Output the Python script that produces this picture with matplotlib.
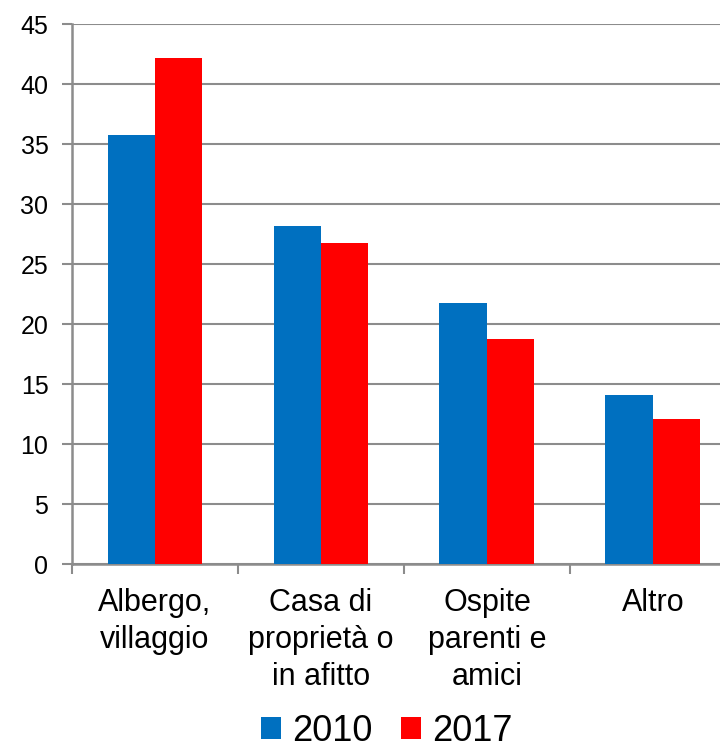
import matplotlib
matplotlib.use("Agg")
import matplotlib.pyplot as plt
import numpy as np

plt.rcParams["font.family"] = ["Liberation Sans", "DejaVu Sans"]

# dati
categorie = ["Albergo,\nvillaggio", "Casa di\nproprietà o\nin afitto", "Ospite\nparenti e\namici", "Altro"]
anni = ["2010", "2017"]
val_2010 = [35.8, 28.2, 21.8, 14.1]
val_2017 = [42.2, 26.8, 18.8, 12.1]
colori = ["#0070C0", "#FF0000"]
yticks = [0, 5, 10, 15, 20, 25, 30, 35, 40, 45]

grigio = "#8C8C8C"

fig = plt.figure(figsize=(7.2, 7.5), dpi=100)
ax = fig.add_axes([0.1, 0.248, 0.9, 0.7196])

x = np.arange(len(categorie))
w = 0.286
ax.bar(x - w / 2, val_2010, w, color=colori[0], label=anni[0], zorder=3)
ax.bar(x + w / 2, val_2017, w, color=colori[1], label=anni[1], zorder=3)

ax.set_ylim(0, 45)
ax.set_yticks(yticks)
ax.set_xlim(-0.5, 3.404)
ax.yaxis.grid(True, color=grigio, linewidth=1.5, zorder=0)
ax.set_axisbelow(True)

# tacche tra le categorie, etichette al centro
ax.set_xticks(x)
ax.set_xticklabels(categorie, fontsize=22, linespacing=1.32)
ax.set_xticks(np.arange(len(categorie)) - 0.5, minor=True)
ax.tick_params(axis="x", which="major", length=0, pad=17)
ax.tick_params(axis="x", which="minor", length=7, width=1.5, color=grigio)
ax.tick_params(axis="y", labelsize=18, length=7, width=1.5, color=grigio, pad=10)

for s in ["top", "right"]:
    ax.spines[s].set_visible(False)
for s in ["left", "bottom"]:
    ax.spines[s].set_color(grigio)
    ax.spines[s].set_linewidth(1.8)

fig.legend(loc="lower center", bbox_to_anchor=(0.5375, -0.042), ncol=2, frameon=False,
           fontsize=26, handlelength=0.55, handleheight=0.55, handletextpad=0.3,
           columnspacing=0.8)

fig.savefig("out.png", dpi=100)
